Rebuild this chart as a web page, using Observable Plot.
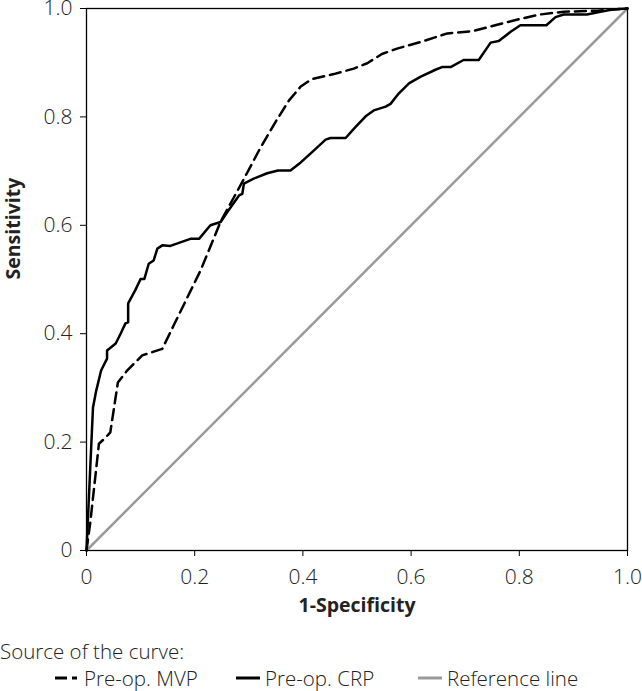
<!DOCTYPE html>
<html>
<head>
<meta charset="utf-8">
<script src="https://cdn.jsdelivr.net/npm/d3@7"></script>
<script src="https://cdn.jsdelivr.net/npm/@observablehq/plot@0.6"></script>
<style>
  body { margin: 0; background: #fff; font-family: "Open Sans", sans-serif; color: #222; }
  #legend { position: relative; width: 642px; height: 61px; font-size: 20.5px; font-weight: 300; }
  #legend .title { position: absolute; left: 0; top: 7px; }
  #legend .item { position: absolute; top: 34px; display: flex; align-items: center; }
  #legend svg { margin-right: 5px; }
</style>
</head>
<body>
<div id="chart"></div>
<div id="legend"></div>
<script>
// 1-Specificity (x) and Sensitivity (y)
const crpX = [0, 0.012, 0.018, 0.027, 0.038, 0.038, 0.054, 0.063, 0.072, 0.077, 0.077, 0.09, 0.1, 0.107, 0.115, 0.124, 0.131, 0.14, 0.155, 0.192, 0.208, 0.229, 0.248, 0.26, 0.282, 0.288, 0.291, 0.309, 0.334, 0.354, 0.377, 0.396, 0.417, 0.442, 0.451, 0.479, 0.497, 0.516, 0.531, 0.553, 0.562, 0.577, 0.596, 0.617, 0.645, 0.657, 0.673, 0.697, 0.725, 0.747, 0.762, 0.784, 0.802, 0.85, 0.867, 0.882, 0.925, 0.95, 0.972, 1];
const crpY = [0, 0.264, 0.295, 0.332, 0.354, 0.369, 0.382, 0.40, 0.419, 0.421, 0.456, 0.48, 0.501, 0.501, 0.529, 0.535, 0.557, 0.563, 0.562, 0.575, 0.575, 0.60, 0.606, 0.624, 0.655, 0.658, 0.677, 0.686, 0.696, 0.701, 0.701, 0.716, 0.735, 0.758, 0.761, 0.761, 0.781, 0.801, 0.812, 0.819, 0.824, 0.843, 0.862, 0.874, 0.887, 0.892, 0.892, 0.905, 0.905, 0.937, 0.94, 0.957, 0.969, 0.969, 0.984, 0.989, 0.989, 0.994, 0.998, 1];

const mvpX = [0, 0.007, 0.023, 0.035, 0.044, 0.058, 0.075, 0.103, 0.14, 0.161, 0.211, 0.248, 0.288, 0.322, 0.349, 0.374, 0.396, 0.417, 0.457, 0.494, 0.519, 0.546, 0.574, 0.617, 0.667, 0.713, 0.759, 0.802, 0.839, 0.882, 0.944, 1];
const mvpY = [0, 0.052, 0.197, 0.208, 0.218, 0.31, 0.332, 0.36, 0.372, 0.415, 0.517, 0.607, 0.68, 0.744, 0.79, 0.83, 0.856, 0.87, 0.879, 0.889, 0.899, 0.916, 0.926, 0.938, 0.954, 0.958, 0.97, 0.981, 0.989, 0.994, 0.996, 1];

const refX = [0, 1];
const refY = [0, 1];

const ticks = [0, 0.2, 0.4, 0.6, 0.8, 1.0];
const tickLabels = ["0", "0.2", "0.4", "0.6", "0.8", "1.0"];

const seriesNames = ["Pre-op. MVP", "Pre-op. CRP", "Reference line"];
const legendTitle = "Source of the curve:";

const toPts = (xs, ys) => xs.map((x, i) => ({x, y: ys[i]}));
const fmt = d => tickLabels[ticks.findIndex(t => Math.abs(t - d) < 1e-9)];

const chart = Plot.plot({
  width: 642,
  height: 630,
  marginLeft: 86,
  marginRight: 15,
  marginTop: 8,
  marginBottom: 80,
  style: {fontFamily: "Open Sans, sans-serif", fontSize: "21px", fontWeight: 300, color: "#222", background: "#fff", overflow: "visible"},
  x: {domain: [0, 1], label: null},
  y: {domain: [0, 1], label: null},
  marks: [
    Plot.line(toPts(refX, refY), {x: "x", y: "y", stroke: "#9a9a9a", strokeWidth: 2.5}),
    Plot.line(toPts(mvpX, mvpY), {x: "x", y: "y", stroke: "#000", strokeWidth: 2.5, strokeDasharray: "11,6"}),
    Plot.line(toPts(crpX, crpY), {x: "x", y: "y", stroke: "#000", strokeWidth: 2.5}),
    Plot.frame({stroke: "#000", strokeWidth: 1.3}),
    Plot.axisX({ticks: ticks, tickFormat: fmt, tickSize: 6, tickPadding: 13, label: null, stroke: "#000", fontSize: 21}),
    Plot.axisY({ticks: ticks, tickFormat: fmt, tickSize: 6, tickPadding: 8, label: null, stroke: "#000", fontSize: 21}),
    Plot.text(["1-Specificity"], {frameAnchor: "bottom", dy: 61, fontWeight: "bold", fontSize: 19.5}),
    Plot.text(["Sensitivity"], {frameAnchor: "left", dx: -73, rotate: -90, fontWeight: "bold", fontSize: 19.5})
  ]
});
document.getElementById("chart").appendChild(chart);

// Legend
const legend = document.getElementById("legend");
const t = document.createElement("div");
t.className = "title";
t.textContent = legendTitle;
legend.appendChild(t);
const swatches = [
  {left: 55, stroke: "#000", dash: "12,5,5,30"},
  {left: 236, stroke: "#000", dash: null},
  {left: 418, stroke: "#9a9a9a", dash: null}
];
seriesNames.forEach((name, i) => {
  const s = swatches[i];
  const item = document.createElement("div");
  item.className = "item";
  item.style.left = s.left + "px";
  item.innerHTML = `<svg width="24" height="10"><line x1="0" y1="5" x2="24" y2="5" stroke="${s.stroke}" stroke-width="3" ${s.dash ? `stroke-dasharray="${s.dash}"` : ""}/></svg><span>${name}</span>`;
  legend.appendChild(item);
});
</script>
</body>
</html>
